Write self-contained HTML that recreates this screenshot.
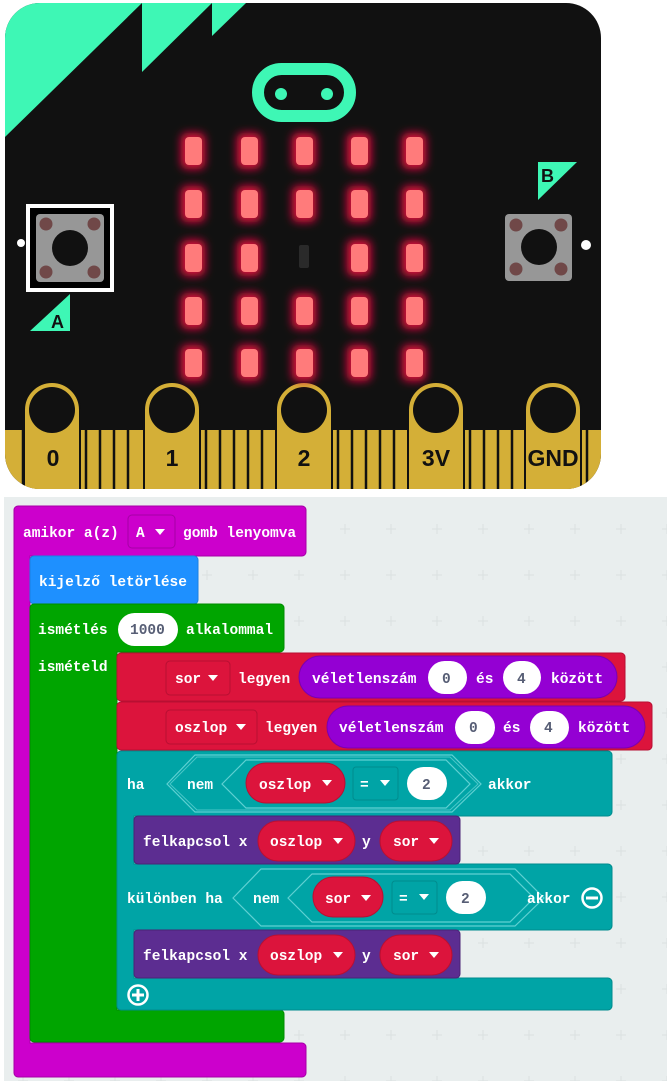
<!DOCTYPE html>
<html><head><meta charset="utf-8"><style>
html,body{margin:0;padding:0;background:#fff;}
svg{display:block}
text{font-family:"Liberation Mono",monospace;font-weight:bold;font-size:14.5px;fill:#fff;}
.d{fill:#575e75}
.p{font-family:"Liberation Sans",sans-serif;font-weight:bold;font-size:23px;fill:#111;text-anchor:middle}
</style></head><body>
<svg width="667" height="1081" viewBox="0 0 667 1081" xmlns="http://www.w3.org/2000/svg">
<defs>
<filter id="g" x="-80%" y="-60%" width="260%" height="220%"><feGaussianBlur stdDeviation="4.5"/></filter>
<pattern id="grid" x="0" y="0" width="46" height="46" patternUnits="userSpaceOnUse">
<path d="M23 18v10M18 23h10" stroke="#dde3e3" stroke-width="1.3"/>
</pattern>
</defs>
<path d="M40 3H566a35 35 0 0 1 35 35V454a35 35 0 0 1-35 35H40a35 35 0 0 1-35-35V38A35 35 0 0 1 40 3z" fill="#111"/>
<clipPath id="bc"><path d="M40 3H566a35 35 0 0 1 35 35V454a35 35 0 0 1-35 35H40a35 35 0 0 1-35-35V38A35 35 0 0 1 40 3z"/></clipPath>
<g clip-path="url(#bc)">
<polygon points="0,0 142,0 142,3 5,137 0,137" fill="#3ef7b5"/>
<polygon points="142,3 212,3 142,72" fill="#3ef7b5"/>
<polygon points="212,3 246,3 212,36" fill="#3ef7b5"/>
<rect x="0" y="430" width="610" height="60" fill="#d4af37"/>
<g stroke="#111" stroke-width="2.5">
<line x1="86" y1="430" x2="86" y2="490"/><line x1="100" y1="430" x2="100" y2="490"/><line x1="114" y1="430" x2="114" y2="490"/><line x1="128" y1="430" x2="128" y2="490"/>
<line x1="206" y1="430" x2="206" y2="490"/><line x1="220" y1="430" x2="220" y2="490"/><line x1="234" y1="430" x2="234" y2="490"/><line x1="248" y1="430" x2="248" y2="490"/><line x1="262" y1="430" x2="262" y2="490"/>
<line x1="338" y1="430" x2="338" y2="490"/><line x1="352" y1="430" x2="352" y2="490"/><line x1="366" y1="430" x2="366" y2="490"/><line x1="380" y1="430" x2="380" y2="490"/><line x1="394" y1="430" x2="394" y2="490"/>
<line x1="470" y1="430" x2="470" y2="490"/><line x1="484" y1="430" x2="484" y2="490"/><line x1="498" y1="430" x2="498" y2="490"/><line x1="512" y1="430" x2="512" y2="490"/>
<line x1="23" y1="430" x2="23" y2="490"/><line x1="587" y1="430" x2="587" y2="490"/>
</g>
<g fill="#d4af37" stroke="#111" stroke-width="2">
<path d="M24 490V410a28 28 0 0 1 56 0V490"/>
<path d="M144 490V410a28 28 0 0 1 56 0V490"/>
<path d="M276 490V410a28 28 0 0 1 56 0V490"/>
<path d="M408 490V410a28 28 0 0 1 56 0V490"/>
<path d="M525 490V410a28 28 0 0 1 56 0V490"/>
</g>
<g fill="#111">
<circle cx="52" cy="410" r="23"/><circle cx="172" cy="410" r="23"/><circle cx="304" cy="410" r="23"/><circle cx="436" cy="410" r="23"/><circle cx="553" cy="410" r="23"/>
</g>
</g>
<text class="p" x="53" y="466">0</text>
<text class="p" x="172" y="466">1</text>
<text class="p" x="304" y="466">2</text>
<text class="p" x="436" y="466">3V</text>
<text class="p" x="553" y="466">GND</text>
<rect x="258" y="69" width="92" height="47" rx="23.5" fill="none" stroke="#3ef7b5" stroke-width="12"/>
<circle cx="281" cy="94" r="6" fill="#3ef7b5"/><circle cx="327" cy="94" r="6" fill="#3ef7b5"/>
<g fill="#e0103c" filter="url(#g)">
<rect x="181" y="133" width="24" height="36" rx="6"/><rect x="237" y="133" width="24" height="36" rx="6"/><rect x="292" y="133" width="24" height="36" rx="6"/><rect x="347" y="133" width="24" height="36" rx="6"/><rect x="402" y="133" width="24" height="36" rx="6"/>
<rect x="181" y="186" width="24" height="36" rx="6"/><rect x="237" y="186" width="24" height="36" rx="6"/><rect x="292" y="186" width="24" height="36" rx="6"/><rect x="347" y="186" width="24" height="36" rx="6"/><rect x="402" y="186" width="24" height="36" rx="6"/>
<rect x="181" y="240" width="24" height="36" rx="6"/><rect x="237" y="240" width="24" height="36" rx="6"/><rect x="347" y="240" width="24" height="36" rx="6"/><rect x="402" y="240" width="24" height="36" rx="6"/>
<rect x="181" y="293" width="24" height="36" rx="6"/><rect x="237" y="293" width="24" height="36" rx="6"/><rect x="292" y="293" width="24" height="36" rx="6"/><rect x="347" y="293" width="24" height="36" rx="6"/><rect x="402" y="293" width="24" height="36" rx="6"/>
<rect x="181" y="345" width="24" height="36" rx="6"/><rect x="237" y="345" width="24" height="36" rx="6"/><rect x="292" y="345" width="24" height="36" rx="6"/><rect x="347" y="345" width="24" height="36" rx="6"/><rect x="402" y="345" width="24" height="36" rx="6"/>
</g>
<g fill="#ff7b7b">
<rect x="185" y="137" width="17" height="28" rx="4"/><rect x="241" y="137" width="17" height="28" rx="4"/><rect x="296" y="137" width="17" height="28" rx="4"/><rect x="351" y="137" width="17" height="28" rx="4"/><rect x="406" y="137" width="17" height="28" rx="4"/>
<rect x="185" y="190" width="17" height="28" rx="4"/><rect x="241" y="190" width="17" height="28" rx="4"/><rect x="296" y="190" width="17" height="28" rx="4"/><rect x="351" y="190" width="17" height="28" rx="4"/><rect x="406" y="190" width="17" height="28" rx="4"/>
<rect x="185" y="244" width="17" height="28" rx="4"/><rect x="241" y="244" width="17" height="28" rx="4"/><rect x="351" y="244" width="17" height="28" rx="4"/><rect x="406" y="244" width="17" height="28" rx="4"/>
<rect x="185" y="297" width="17" height="28" rx="4"/><rect x="241" y="297" width="17" height="28" rx="4"/><rect x="296" y="297" width="17" height="28" rx="4"/><rect x="351" y="297" width="17" height="28" rx="4"/><rect x="406" y="297" width="17" height="28" rx="4"/>
<rect x="185" y="349" width="17" height="28" rx="4"/><rect x="241" y="349" width="17" height="28" rx="4"/><rect x="296" y="349" width="17" height="28" rx="4"/><rect x="351" y="349" width="17" height="28" rx="4"/><rect x="406" y="349" width="17" height="28" rx="4"/>
</g>
<rect x="299" y="245" width="10" height="23" rx="2" fill="#2a2a2a"/>
<rect x="28" y="206" width="84" height="84" fill="#000" stroke="#fff" stroke-width="4"/>
<rect x="36" y="214" width="68" height="68" rx="4" fill="#979797"/>
<circle cx="70" cy="248" r="18" fill="#111"/>
<g fill="#704848"><circle cx="46" cy="224" r="6.5"/><circle cx="94" cy="224" r="6.5"/><circle cx="46" cy="272" r="6.5"/><circle cx="94" cy="272" r="6.5"/></g>
<circle cx="21" cy="243" r="4" fill="#fff"/>
<polygon points="30,331 70,331 70,294" fill="#3ef7b5"/>
<text x="51" y="328" style="font-family:'Liberation Sans',sans-serif;font-size:18px;fill:#111">A</text>
<rect x="505" y="214" width="67" height="67" rx="4" fill="#979797"/>
<circle cx="539" cy="247" r="18" fill="#111"/>
<g fill="#704848"><circle cx="516" cy="225" r="6.5"/><circle cx="561" cy="225" r="6.5"/><circle cx="516" cy="269" r="6.5"/><circle cx="561" cy="269" r="6.5"/></g>
<circle cx="586" cy="245" r="5" fill="#fff"/>
<polygon points="538,162 577,162 538,200" fill="#3ef7b5"/>
<text x="541" y="182" style="font-family:'Liberation Sans',sans-serif;font-size:18px;fill:#111">B</text>

<rect x="4" y="497" width="663" height="584" fill="#e9eeee"/>
<rect x="4" y="497" width="663" height="584" fill="url(#grid)"/>

<path d="M18 506H302a4 4 0 0 1 4 4V552a4 4 0 0 1-4 4H30V1043H302a4 4 0 0 1 4 4V1073a4 4 0 0 1-4 4H18a4 4 0 0 1-4-4V510a4 4 0 0 1 4-4z" fill="#cc00cc" stroke="#a600a6" stroke-width="1"/>
<text x="23" y="537">amikor a(z)</text>
<rect x="128" y="515" width="47" height="33" rx="4" fill="#cc00cc" stroke="#a600a6"/>
<text x="136" y="537">A</text><path d="M155 529h10l-5 6z" fill="#fff"/>
<text x="183" y="537">gomb lenyomva</text>

<rect x="30" y="556" width="168" height="48" rx="4" fill="#1e90ff" stroke="#1a7fe0"/>
<text x="39" y="586">kijelző letörlése</text>

<path d="M34 604H280a4 4 0 0 1 4 4V648a4 4 0 0 1-4 4H117V1010H280a4 4 0 0 1 4 4V1038a4 4 0 0 1-4 4H34a4 4 0 0 1-4-4V608a4 4 0 0 1 4-4z" fill="#00a500" stroke="#008c00"/>
<text x="38" y="634">ismétlés</text>
<rect x="118" y="613" width="60" height="33" rx="16.5" fill="#fff"/>
<text class="d" x="130" y="634">1000</text>
<text x="186" y="634">alkalommal</text>
<text x="38" y="671">ismételd</text>

<rect x="117" y="653" width="508" height="48" rx="4" fill="#dc143c" stroke="#b80f32"/>
<rect x="166" y="661" width="64" height="34" rx="4" fill="#dc143c" stroke="#b80f32"/>
<text x="175" y="683">sor</text><path d="M208 675h10l-5 6z" fill="#fff"/>
<text x="238" y="683">legyen</text>
<rect x="299" y="656" width="318" height="42" rx="21" fill="#9400d3" stroke="#7a00b0"/>
<text x="312" y="683">véletlenszám</text>
<rect x="428" y="661" width="39" height="33" rx="16.5" fill="#fff"/><text class="d" x="442" y="683">0</text>
<text x="476" y="683">és</text>
<rect x="503" y="661" width="38" height="33" rx="16.5" fill="#fff"/><text class="d" x="517" y="683">4</text>
<text x="551" y="683">között</text>

<rect x="117" y="702" width="535" height="48" rx="4" fill="#dc143c" stroke="#b80f32"/>
<rect x="166" y="710" width="91" height="34" rx="4" fill="#dc143c" stroke="#b80f32"/>
<text x="175" y="732">oszlop</text><path d="M236 724h10l-5 6z" fill="#fff"/>
<text x="265" y="732">legyen</text>
<rect x="327" y="706" width="318" height="42" rx="21" fill="#9400d3" stroke="#7a00b0"/>
<text x="339" y="732">véletlenszám</text>
<rect x="455" y="711" width="40" height="33" rx="16.5" fill="#fff"/><text class="d" x="469" y="732">0</text>
<text x="503" y="732">és</text>
<rect x="530" y="711" width="39" height="33" rx="16.5" fill="#fff"/><text class="d" x="544" y="732">4</text>
<text x="578" y="732">között</text>

<!-- teal if (C shape) -->
<path d="M121 751H608a4 4 0 0 1 4 4V812a4 4 0 0 1-4 4H134V864H608a4 4 0 0 1 4 4V926a4 4 0 0 1-4 4H134V978H608a4 4 0 0 1 4 4V1006a4 4 0 0 1-4 4H121a4 4 0 0 1-4-4V755a4 4 0 0 1 4-4z" fill="#00a4a6" stroke="#008b8d"/>
<text x="127" y="789">ha</text>
<polygon points="167,784 195,755 452,755 481,784 452,812 195,812" fill="none" stroke="#5fd0d2" stroke-width="1.2"/>
<polygon points="170,784 197,757 450,757 478,784 450,810 197,810" fill="#00a4a6" stroke="#4ac6c8" stroke-width="1"/>
<text x="187" y="789">nem</text>
<polygon points="222,784 246,760 446,760 470,784 446,808 246,808" fill="none" stroke="#5fd0d2" stroke-width="1.2"/>
<rect x="246" y="763" width="99" height="40" rx="20" fill="#dc143c" stroke="#b80f32"/>
<text x="259" y="789">oszlop</text><path d="M322 780h10l-5 6z" fill="#fff"/>
<rect x="353" y="767" width="45" height="33" rx="3" fill="#00a4a6" stroke="#008b8d"/>
<text x="360" y="789">=</text><path d="M380 780h10l-5 6z" fill="#fff"/>
<rect x="407" y="767" width="40" height="33" rx="16.5" fill="#fff"/><text class="d" x="422" y="789">2</text>
<text x="488" y="789">akkor</text>

<rect x="134" y="816" width="326" height="48" rx="4" fill="#5c2d91" stroke="#4a2475"/>
<text x="143" y="846">felkapcsol x</text>
<rect x="258" y="821" width="97" height="40" rx="20" fill="#dc143c" stroke="#b80f32"/>
<text x="270" y="846">oszlop</text><path d="M333 838h10l-5 6z" fill="#fff"/>
<text x="362" y="846">y</text>
<rect x="380" y="821" width="72" height="40" rx="20" fill="#dc143c" stroke="#b80f32"/>
<text x="393" y="846">sor</text><path d="M429 838h10l-5 6z" fill="#fff"/>

<text x="127" y="903">különben ha</text>
<polygon points="233,898 261,869 515,869 544,898 515,926 261,926" fill="none" stroke="#5fd0d2" stroke-width="1.2"/>
<text x="253" y="903">nem</text>
<polygon points="288,898 312,874 510,874 534,898 510,922 312,922" fill="none" stroke="#5fd0d2" stroke-width="1.2"/>
<rect x="313" y="877" width="70" height="40" rx="20" fill="#dc143c" stroke="#b80f32"/>
<text x="325" y="903">sor</text><path d="M361 895h10l-5 6z" fill="#fff"/>
<rect x="392" y="881" width="45" height="33" rx="3" fill="#00a4a6" stroke="#008b8d"/>
<text x="399" y="903">=</text><path d="M419 894h10l-5 6z" fill="#fff"/>
<rect x="446" y="881" width="40" height="33" rx="16.5" fill="#fff"/><text class="d" x="461" y="903">2</text>
<text x="527" y="903">akkor</text>
<circle cx="592" cy="898" r="9.5" fill="none" stroke="#fff" stroke-width="2.5"/><rect x="586" y="896.5" width="12" height="3" fill="#fff"/>

<rect x="134" y="930" width="326" height="48" rx="4" fill="#5c2d91" stroke="#4a2475"/>
<text x="143" y="960">felkapcsol x</text>
<rect x="258" y="935" width="97" height="40" rx="20" fill="#dc143c" stroke="#b80f32"/>
<text x="270" y="960">oszlop</text><path d="M333 952h10l-5 6z" fill="#fff"/>
<text x="362" y="960">y</text>
<rect x="380" y="935" width="72" height="40" rx="20" fill="#dc143c" stroke="#b80f32"/>
<text x="393" y="960">sor</text><path d="M429 952h10l-5 6z" fill="#fff"/>

<circle cx="138" cy="995" r="9.5" fill="none" stroke="#fff" stroke-width="2.5"/><rect x="132" y="993.5" width="12" height="3" fill="#fff"/><rect x="136.5" y="989" width="3" height="12" fill="#fff"/>
</svg>
</body></html>
